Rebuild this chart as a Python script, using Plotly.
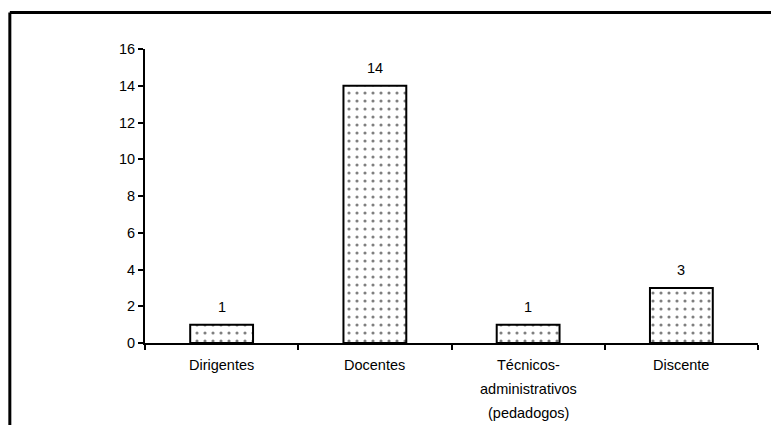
import plotly.graph_objects as go

categories = ["Dirigentes", "Docentes", "Técnicos-<br>administrativos<br>(pedadogos)", "Discente"]
values = [1, 14, 1, 3]
y_ticks = [0, 2, 4, 6, 8, 10, 12, 14, 16]

FONT = "Arial, Liberation Sans, sans-serif"
FS = 14.5

fig = go.Figure()
fig.add_trace(go.Bar(
    x=categories, y=values,
    marker=dict(
        color="white",
        line=dict(color="black", width=2),
        pattern=dict(shape=".", fgcolor="black", bgcolor="white", size=8, solidity=0.12),
    ),
    width=0.41,
    showlegend=False,
    hoverinfo="skip",
))

for c, v in zip(categories, values):
    fig.add_annotation(x=c, y=v, text=str(v), showarrow=False,
                       yanchor="bottom", yshift=8,
                       font=dict(family=FONT, size=FS, color="black"))

# category labels with wider line spacing
for c in categories:
    for i, line in enumerate(c.split("<br>")):
        fig.add_annotation(x=c, y=0, text=line, showarrow=False,
                           yanchor="middle", yshift=-(22 + i * 24),
                           font=dict(family=FONT, size=FS, color="black"))

# outer frame (left and top only)
fig.add_shape(type="line", xref="paper", yref="paper",
              x0=-0.2205, x1=-0.2205, y0=1.124, y1=-0.3,
              line=dict(color="black", width=3))
fig.add_shape(type="line", xref="paper", yref="paper",
              x0=-0.2205, x1=1.06, y0=1.124, y1=1.124,
              line=dict(color="black", width=3))

fig.update_layout(
    width=771, height=417,
    margin=dict(l=137, r=21, t=41, b=82),
    plot_bgcolor="white", paper_bgcolor="white",
    font=dict(family=FONT, size=FS, color="black"),
    bargap=0.59,
)
fig.update_xaxes(
    showline=True, linecolor="black", linewidth=2,
    ticks="outside", ticklen=5, tickcolor="black", tickwidth=2,
    tickson="boundaries", showticklabels=False,
    showgrid=False, zeroline=False,
)
fig.update_yaxes(
    range=[0, 16], tickvals=y_ticks,
    showline=True, linecolor="black", linewidth=2,
    ticks="outside", ticklen=5, tickcolor="black", tickwidth=2,
    showgrid=False, zeroline=False,
    tickfont=dict(family=FONT, size=FS, color="black"),
)

fig.write_html("out.html")
